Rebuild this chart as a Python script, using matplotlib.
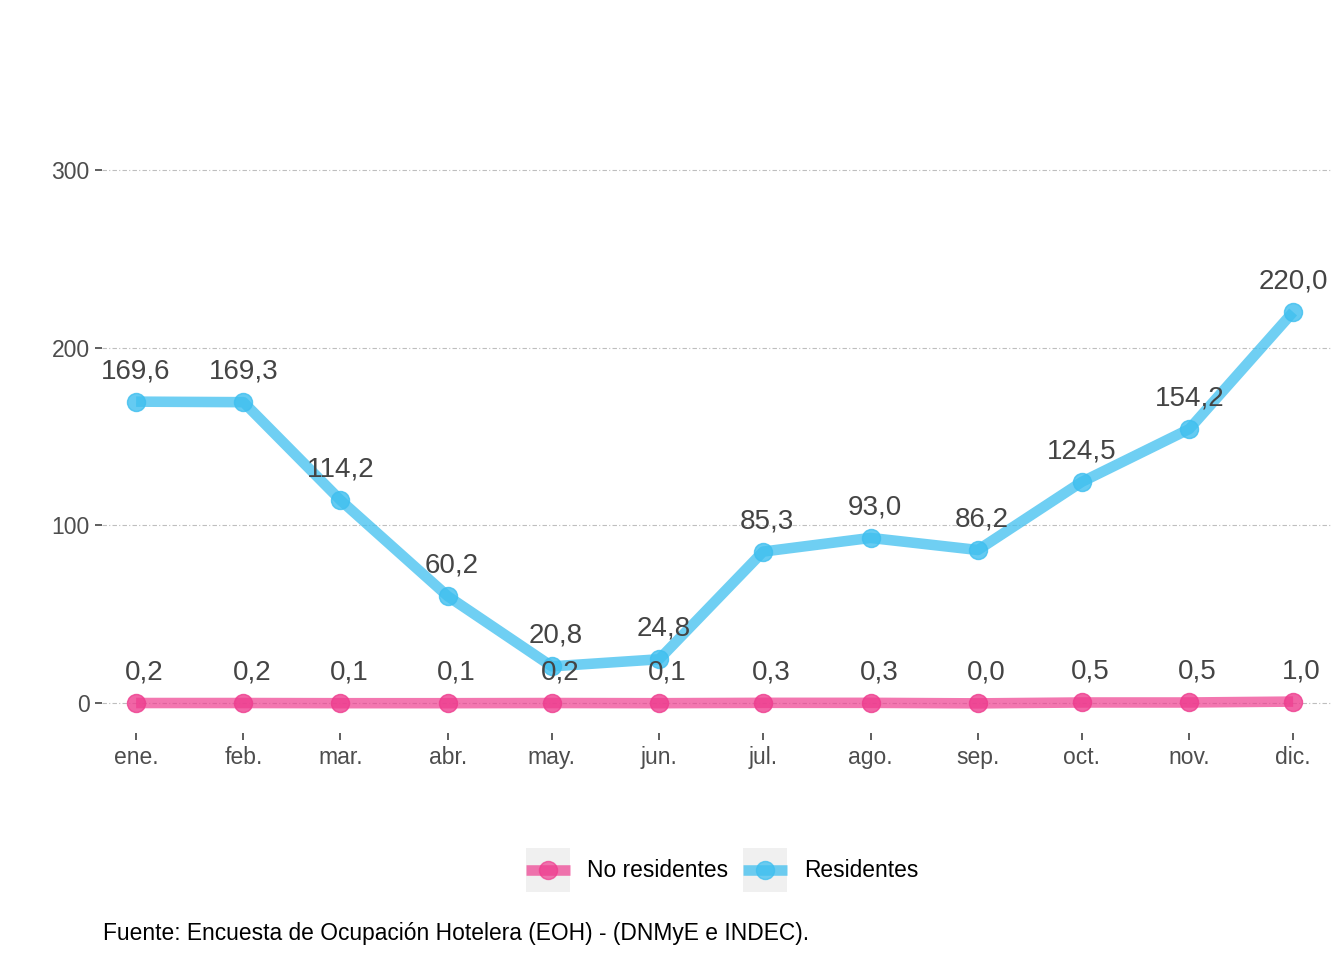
import matplotlib
matplotlib.use("Agg")
import matplotlib.pyplot as plt
import matplotlib.dates as mdates
import pandas as pd
from matplotlib.legend_handler import HandlerLine2D
from matplotlib.patches import Rectangle
from matplotlib.lines import Line2D

plt.rcParams['font.family'] = ['Liberation Sans', 'DejaVu Sans']

# datos
meses = ["ene.", "feb.", "mar.", "abr.", "may.", "jun.",
         "jul.", "ago.", "sep.", "oct.", "nov.", "dic."]
fechas = pd.date_range("2023-01-01", periods=12, freq="MS")
residentes = [169.6, 169.3, 114.2, 60.2, 20.8, 24.8, 85.3, 93.0, 86.2, 124.5, 154.2, 220.0]
no_residentes = [0.2, 0.2, 0.1, 0.1, 0.2, 0.1, 0.3, 0.3, 0.0, 0.5, 0.5, 1.0]
y_ticks = [0, 100, 200, 300]

col_res = "#3FBFEF"
col_nores = "#EE3D8F"
LW = 7.6
MS = 13


def fmt(v):
    return f"{v:.1f}".replace(".", ",")


class KeyHandler(HandlerLine2D):
    # caja gris detras de cada clave, estilo ggplot
    def create_artists(self, legend, orig_handle, xdescent, ydescent,
                       width, height, fontsize, trans):
        rect = Rectangle((-xdescent, -ydescent), width, height,
                         facecolor="#F0F0F0", edgecolor="none", transform=trans)
        arts = super().create_artists(legend, orig_handle, xdescent, ydescent,
                                      width, height, fontsize, trans)
        for a in arts:
            a.set_ydata([height / 2 - ydescent] * len(a.get_xdata()))
        return [rect] + arts


fig = plt.figure(figsize=(13.44, 9.6), dpi=100)
ax = fig.add_axes([0.076, 0.236, 0.914, 0.654])

x = mdates.date2num(fechas)

ax.plot(x, no_residentes, color=col_nores, lw=LW, alpha=0.7, zorder=3,
        solid_capstyle="butt")
ax.plot(x, no_residentes, "o", ms=MS, color=col_nores, alpha=0.8, zorder=3)
ax.plot(x, residentes, color=col_res, lw=LW, alpha=0.75, zorder=3,
        solid_capstyle="butt")
ax.plot(x, residentes, "o", ms=MS, color=col_res, alpha=0.8, zorder=3)

# etiquetas de valores
for xi, v in zip(x, no_residentes):
    ax.annotate(fmt(v), (xi, v), xytext=(6, 22), textcoords="offset points",
                ha="center", va="center", fontsize=20, color="#444444", zorder=5)
for i, (xi, v) in enumerate(zip(x, residentes)):
    dx = 3 if i in (3, 4, 5, 6, 7, 8) else 0
    ax.annotate(fmt(v), (xi, v), xytext=(dx, 22), textcoords="offset points",
                ha="center", va="center", fontsize=20, color="#444444", zorder=5)

ax.set_xlim(x[0] - 9.8, x[-1] + 10.8)
ax.set_ylim(-16.9, 336)
ax.set_xticks(x)
ax.set_xticklabels(meses)
ax.set_yticks(y_ticks)
ax.set_yticklabels([str(t) for t in y_ticks])

for t in y_ticks:
    ax.axhline(t, color="#BEBEBE", lw=0.8, dashes=(4, 2, 1, 2), zorder=1)

for s in ax.spines.values():
    s.set_visible(False)
ax.tick_params(axis="both", length=5, width=1.1, color="#333333",
               labelsize=16.5, labelcolor="#4D4D4D", pad=4)

handles = [
    Line2D([], [], color=col_nores, lw=LW, alpha=0.7, marker="o", ms=MS,
           mfc=col_nores, mec=col_nores, solid_capstyle="butt"),
    Line2D([], [], color=col_res, lw=LW, alpha=0.75, marker="o", ms=MS,
           mfc=col_res, mec=col_res, solid_capstyle="butt"),
]
fig.legend(handles, ["No residentes", "Residentes"], loc="center",
           bbox_to_anchor=(0.5375, 0.094), ncol=2, frameon=False,
           fontsize=16.4, handlelength=1.93, handleheight=2.6,
           handletextpad=0.75, columnspacing=0.66,
           handler_map={Line2D: KeyHandler(numpoints=1)})

fig.text(0.077, 0.028, "Fuente: Encuesta de Ocupación Hotelera (EOH) - (DNMyE e INDEC).",
         fontsize=16.4, color="black", ha="left", va="center")

fig.savefig("out.png", dpi=100, facecolor="white")
